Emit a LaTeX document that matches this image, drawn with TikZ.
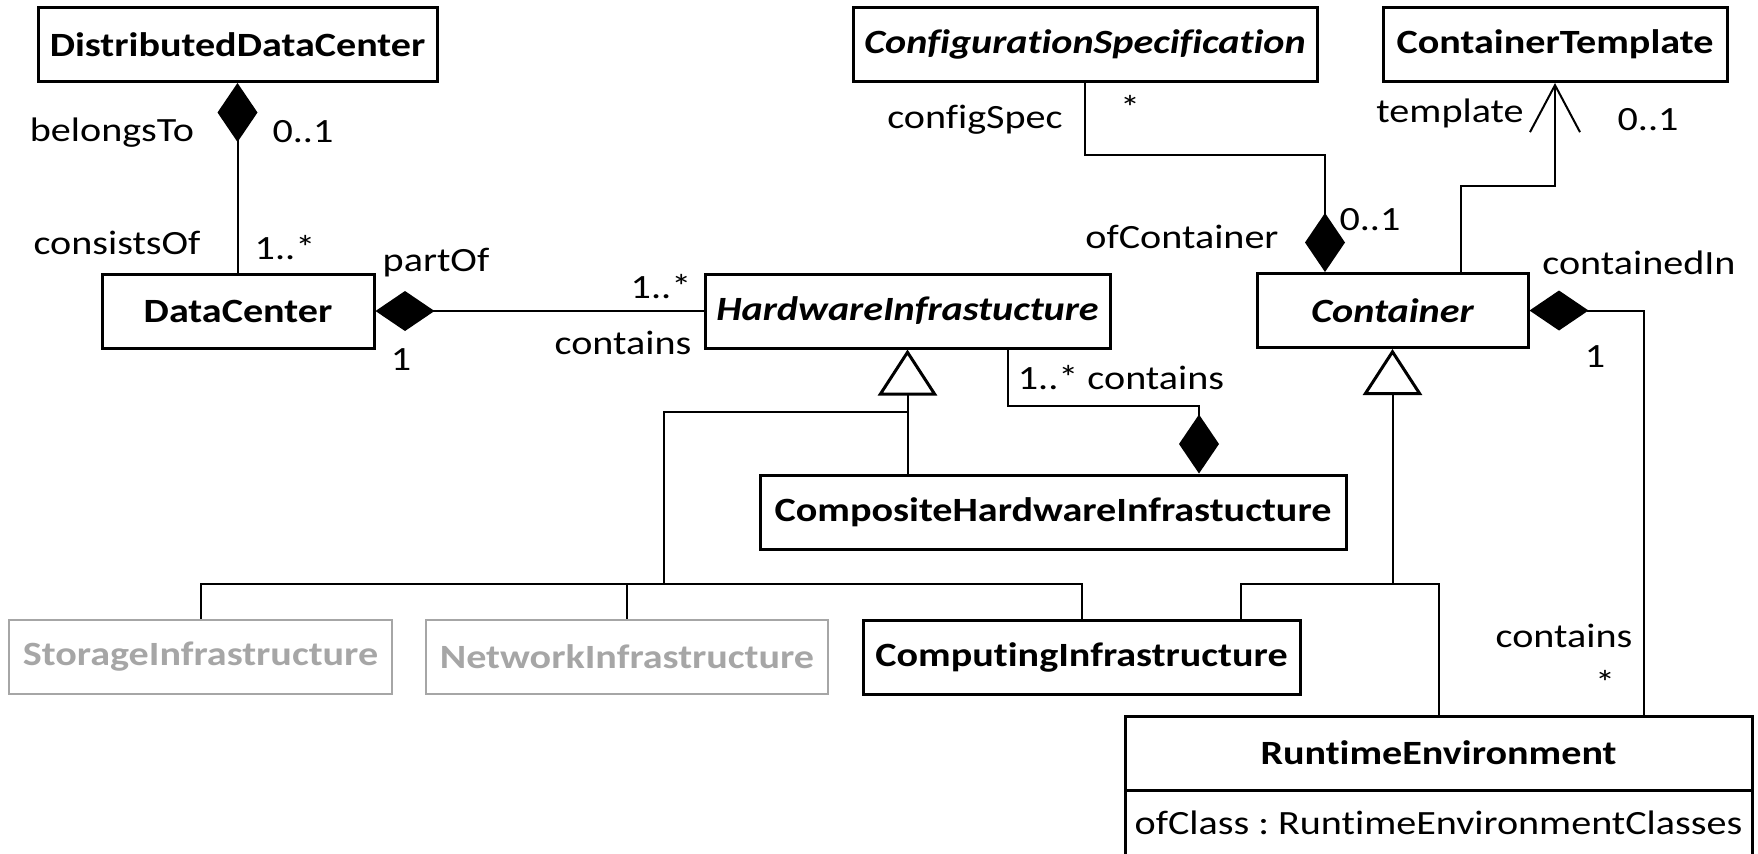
\documentclass[tikz,border=0pt]{standalone}
\usepackage{fontspec}
\setmainfont{Carlito}[FakeStretch=1.18, Ligatures=NoCommon]
\usepackage{tikz}
\usetikzlibrary{arrows.meta, positioning}
\definecolor{ghost}{HTML}{A6A6A6}
\frenchspacing

\begin{document}
\begin{tikzpicture}[
    x=0.5pt, y=-0.5pt,
    every node/.style={font=\fontsize{17}{20}\selectfont},
    cls/.style={draw, line width=1.5pt, inner sep=0pt, minimum height=37pt, font=\fontsize{17}{20}\selectfont\bfseries},
    abst/.style={cls, font=\fontsize{17}{20}\selectfont\bfseries\itshape},
    faded/.style={cls, draw=ghost, text=ghost, line width=1.2pt},
    lbl/.style={inner sep=0pt},
    line/.style={line width=1pt},
    comp/.style={line, {Diamond[length=29.5pt, width=20pt]}-},
    gen/.style={line, -{Triangle[open, length=23pt, width=29.5pt, line width=1.5pt]}},
    nav/.style={line, -{Straight Barb[length=23.5pt, width=25pt, line width=1pt]}}
]
\clip (0,0) rectangle (1758,853);
\node[cls, minimum width=199.5pt] (ddc) at (237.5,44.5) {DistributedDataCenter};
\node[cls, minimum width=136pt] (dc) at (238,311) {DataCenter};
\node[abst, minimum width=232pt] (cs) at (1085,44.5) {ConfigurationSpecification};
\node[cls, minimum width=172pt] (ct) at (1555,44.5) {ContainerTemplate};
\node[abst, minimum width=202.5pt] (hi) at (907.5,311) {HardwareInfrastucture};
\node[abst, minimum width=135.5pt] (cont) at (1392.5,310.5) {Container};
\node[cls, minimum width=293pt] (chi) at (1053,512) {CompositeHardwareInfrastucture};
\node[faded, minimum width=191.5pt] (si) at (200.5,657) {StorageInfrastructure};
\node[faded, minimum width=201pt] (ni) at (627,657) {NetworkInfrastructure};
\node[cls, minimum width=218.5pt] (ci) at (1081.5,657) {ComputingInfrastructure};
\node[cls, minimum width=313.5pt] (re) at (1438.5,753) {RuntimeEnvironment};
\node[draw, line width=1.5pt, inner sep=0pt, minimum width=313.5pt, minimum height=33pt,
    below=-1.5pt of re] (reattr) {ofClass : RuntimeEnvironmentClasses};

\draw[comp] (ddc.south) -- (ddc.south |- dc.north);
\node[lbl] (belongs) at (112,133) {belongsTo};
\node[lbl] (ddcmult) at (303,132) {0..1};
\node[lbl] (consists) at (117,243) {consistsOf};
\node[lbl] (dcmult) at (285,248) {1..*};

\draw[comp] (dc) -- (hi);
\node[lbl] (partof) at (436,263) {partOf};
\node[lbl] (dcone) at (401,360) {1};
\node[lbl] (himult) at (661,287) {1..*};
\node[lbl] (hicont) at (623,343) {contains};

\draw[comp] ([xshift=-33.75pt]cont.north) -- ++(0,-117) -| (cs.south);
\node[lbl] (cfgspec) at (975,120) {configSpec};
\node[lbl] (csmult) at (1130,107) {*};
\node[lbl] (ofcont) at (1182,237) {ofContainer};
\node[lbl] (contmult) at (1370,220) {0..1};

\draw[nav] ([xshift=34.25pt]cont.north) -- ++(0,-86) -| (ct.south);
\node[lbl] (tmpl) at (1450,113) {template};
\node[lbl] (ctmult) at (1648,120) {0..1};

\draw[comp] (cont.east) -| ([xshift=102.75pt]re.north);
\node[lbl] (contin) at (1639,263) {containedIn};
\node[lbl] (contone) at (1595,357) {1};
\node[lbl] (recont) at (1564,636) {contains};
\node[lbl] (remult) at (1605,682) {*};

\draw[comp] ([xshift=73pt]chi.north) -- ++(0,-68) -| ([xshift=50.25pt]hi.south);
\node[lbl] (chimult) at (1121,378) {1..* contains};

\coordinate (hijoin) at ([yshift=-31pt]hi.south);
\coordinate (hibus) at (664,584);
\draw[gen] (hi.south |- chi.north) -- (hi.south);
\draw[line] (hibus) |- (hijoin);
\draw[line] (si.north) |- (hibus) -| (ci.north);
\draw[line] (ni.north) -- (ni.north |- hibus);

\coordinate (cbus) at (cont.south |- hibus);
\draw[gen] (cbus) -- (cont.south);
\draw[line] ([xshift=79.75pt]ci.north) |- (cbus) -| (re.north);
\end{tikzpicture}
\end{document}
